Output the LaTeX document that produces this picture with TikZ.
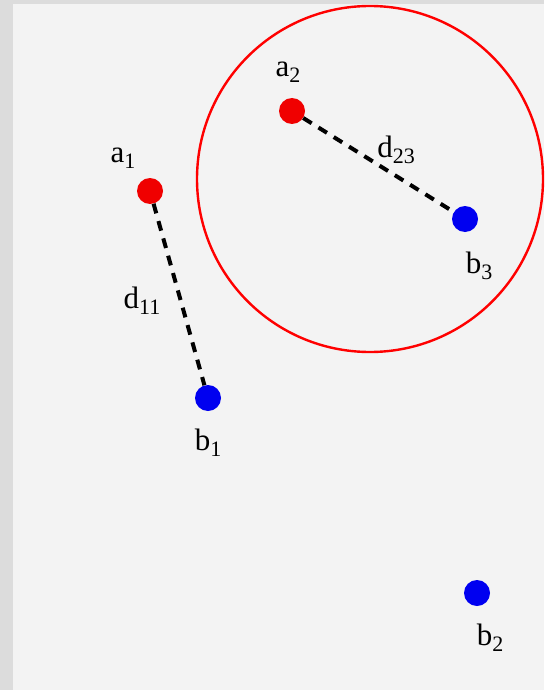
\documentclass[tikz,border=0pt]{standalone}
\usepackage{fontspec}
\setmainfont{Liberation Serif}
\usepackage{tikz}
\usetikzlibrary{positioning}
\definecolor{paper}{HTML}{F3F3F3}
\definecolor{frame}{HTML}{DCDCDC}
\definecolor{dotred}{HTML}{F00000}
\definecolor{dotblue}{HTML}{0000F0}
\newcommand{\idx}[1]{\raisebox{-0.4ex}{\fontsize{22}{24}\selectfont #1}}
\tikzset{
  pt/.style={circle, inner sep=0pt, minimum size=26pt},
  reddot/.style={pt, fill=dotred},
  bluedot/.style={pt, fill=dotblue},
  lbl/.style={inner sep=0pt, font=\fontsize{31}{34}\selectfont},
  dist/.style={black, line width=4pt, dash pattern=on 10pt off 8pt}
}

\begin{document}
\begin{tikzpicture}[x=1pt, y=-1pt]
\fill[frame] (0,0) rectangle (544,690);
\fill[paper] (13,4) rectangle (544,690);
\useasboundingbox (0,0) rectangle (544,690);
% the zone round a2 and b3
\node[draw=red, line width=2.4pt, circle, minimum size=346pt, inner sep=0pt] (zone) at (370,179) {};
% the points
\node[reddot] (a1) at (150,191) {};
\node[reddot] (a2) at (292,111) {};
\node[bluedot] (b1) at (208,398) {};
\node[bluedot] (b2) at (477,593) {};
\node[bluedot] (b3) at (465,219) {};
% distances
\draw[dist] (a1) -- (b1);
\draw[dist] (a2) -- (b3);
% labels
\node[lbl] (la1) at (123,158) {a\idx{1}};
\node[lbl] (la2) at (288,72) {a\idx{2}};
\node[lbl] (lb1) at (208,443) {b\idx{1}};
\node[lbl] (lb2) at (490,638) {b\idx{2}};
\node[lbl] (lb3) at (479,266) {b\idx{3}};
\node[lbl] (ld11) at (142,301) {d\idx{11}};
\node[lbl] (ld23) at (396,150) {d\idx{23}};
\end{tikzpicture}
\end{document}
